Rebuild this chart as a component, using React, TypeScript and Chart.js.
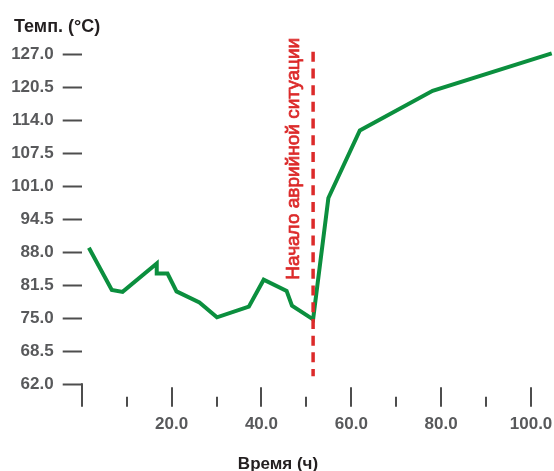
import React, { useEffect, useRef } from 'react';
import { Chart, registerables } from 'chart.js';

Chart.register(...registerables);

// Data
const timeHours = [1.6, 6.7, 9.1, 16.7, 16.7, 19.1, 21.1, 26.2, 30.1, 37.2, 40.5, 45.6, 46.8, 51.5, 54.9, 61.9, 78.1, 104.6];
const tempC = [88.9, 80.6, 80.2, 85.8, 83.8, 83.8, 80.3, 78.1, 75.2, 77.3, 82.6, 80.4, 77.5, 74.8, 98.7, 112.0, 119.8, 127.2];
const eventTime = 51.5;
const eventLineTemps = [127.5, 63.6];
const eventLabel = 'Начало аврийной ситуации';
const yAxisTitle = 'Темп. (°C)';
const xAxisTitle = 'Время (ч)';
const yMin = 62.0;
const yMax = 127.0;
const yStep = 6.5;
const xMin = 0;
const xMax = 105;
const xStep = 10;
const xLabelStep = 20;

const FONT = "'Liberation Sans', Arial, sans-serif";

const decorPlugin = {
  id: 'decor',
  afterDraw(chart: any) {
    const { ctx, chartArea, scales } = chart;
    const xs = scales.x;
    ctx.save();
    // x tick marks (major every 20, minor every 10), bottom aligned
    ctx.strokeStyle = '#4d4d4d';
    ctx.lineWidth = 2;
    const base = chartArea.bottom + 22.5;
    for (let v = xMin; v <= 100; v += xStep) {
      const px = Math.round(xs.getPixelForValue(v));
      const major = v % xLabelStep === 0;
      let top = major ? chartArea.bottom + 3 : chartArea.bottom + 12.5;
      if (v === xMin) top = chartArea.bottom - 1;
      ctx.beginPath();
      ctx.moveTo(px, top);
      ctx.lineTo(px, base);
      ctx.stroke();
    }
    // titles
    ctx.fillStyle = '#231f20';
    ctx.font = `bold 18px ${FONT}`;
    ctx.textAlign = 'left';
    ctx.textBaseline = 'alphabetic';
    ctx.fillText(yAxisTitle, 14, 31.5);
    ctx.font = `bold 17px ${FONT}`;
    ctx.textAlign = 'center';
    ctx.fillText(xAxisTitle, chart.width / 2 + 1, 468.5);
    // event label (rotated)
    const ex = xs.getPixelForValue(eventTime);
    ctx.translate(ex - 13.8, 158.8);
    ctx.rotate(-Math.PI / 2);
    ctx.fillStyle = '#dc2a2a';
    ctx.strokeStyle = '#dc2a2a';
    ctx.lineWidth = 0.7;
    ctx.font = `19px ${FONT}`;
    ctx.textAlign = 'center';
    ctx.textBaseline = 'alphabetic';
    ctx.fillText(eventLabel, 0, 0);
    ctx.strokeText(eventLabel, 0, 0);
    ctx.restore();
  },
};

const zeroPad = (s: any) => {
  s.paddingLeft = 0;
  s.paddingRight = 0;
  s.paddingTop = 0;
  s.paddingBottom = 0;
};

export default function App() {
  const ref = useRef<HTMLCanvasElement>(null);
  useEffect(() => {
    document.body.style.margin = '0';
    const chart = new Chart(ref.current as HTMLCanvasElement, {
      type: 'line',
      data: {
        datasets: [
          {
            data: eventLineTemps.map((t) => ({ x: eventTime, y: t })),
            borderColor: '#dc2a2a',
            borderWidth: 3.5,
            borderDash: [10, 6.7],
            pointRadius: 0,
            clip: false as any,
          },
          {
            data: timeHours.map((t, i) => ({ x: t, y: tempC[i] })),
            borderColor: '#0b8f3e',
            borderWidth: 4,
            pointRadius: 0,
            tension: 0,
            borderJoinStyle: 'miter',
            clip: false as any,
          },
        ],
      },
      options: {
        animation: false,
        responsive: false,
        devicePixelRatio: 1,
        layout: { padding: { top: 54.3, left: 0, right: 0.5, bottom: 0 } },
        plugins: { legend: { display: false }, tooltip: { enabled: false } },
        scales: {
          x: {
            type: 'linear',
            min: xMin,
            max: xMax,
            afterFit: (s: any) => { s.height = 86.7; zeroPad(s); },
            ticks: {
              stepSize: xStep,
              includeBounds: false,
              autoSkip: false,
              maxRotation: 0,
              padding: 30,
              color: '#58595b',
              font: { family: FONT, size: 17, weight: 'bold' },
              callback: (v: any) => (v % xLabelStep === 0 && v !== 0 ? Number(v).toFixed(1) : ''),
            },
            grid: { display: false, drawTicks: false },
            border: { display: false },
          },
          y: {
            type: 'linear',
            min: yMin,
            max: yMax,
            afterFit: (s: any) => { s.width = 81.7; zeroPad(s); },
            ticks: {
              stepSize: yStep,
              autoSkip: false,
              padding: 9,
              color: '#58595b',
              font: { family: FONT, size: 17, weight: 'bold' },
              callback: (v: any) => Number(v).toFixed(1),
            },
            grid: {
              display: true,
              drawOnChartArea: false,
              drawTicks: true,
              tickLength: 19,
              tickColor: '#4d4d4d',
              tickWidth: 2,
            },
            border: { display: false },
          },
        },
      } as any,
      plugins: [decorPlugin],
    });
    return () => chart.destroy();
  }, []);
  return (
    <div style={{ position: 'fixed', left: 0, top: 0, width: 554, height: 471 }}>
      <canvas ref={ref} width={554} height={471} />
    </div>
  );
}
